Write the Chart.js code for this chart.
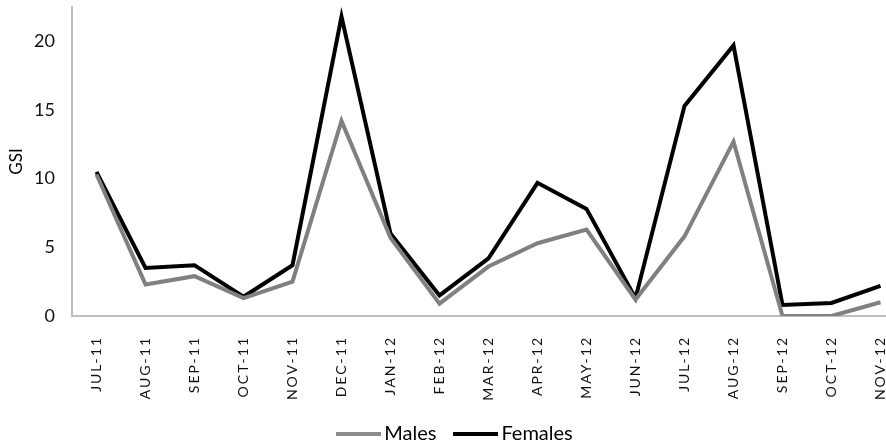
<!DOCTYPE html>
<html>
<head>
<meta charset="utf-8">
<script src="https://cdn.jsdelivr.net/npm/chart.js@4"></script>
<style>
  html, body { margin: 0; padding: 0; background: #fff; overflow: hidden; }
  #wrap { width: 912px; height: 444px; }
</style>
</head>
<body>
<div id="wrap"><canvas id="gsiChart"></canvas></div>
<script>
const months = ['JUL-11', 'AUG-11', 'SEP-11', 'OCT-11', 'NOV-11', 'DEC-11', 'JAN-12', 'FEB-12', 'MAR-12',
  'APR-12', 'MAY-12', 'JUN-12', 'JUL-12', 'AUG-12', 'SEP-12', 'OCT-12', 'NOV-12'];
const males = [10.3, 2.3, 2.9, 1.3, 2.5, 14.2, 5.7, 0.9, 3.6, 5.3, 6.3, 1.2, 5.8, 12.7, 0, 0, 1.0];
const females = [10.5, 3.5, 3.7, 1.4, 3.7, 21.8, 6.0, 1.5, 4.2, 9.7, 7.8, 1.3, 15.3, 19.7, 0.8, 0.95, 2.2];
const yTicks = [0, 5, 10, 15, 20];

const font = 'Lato, "Open Sans", sans-serif';

// legend swatch: a short line that sits close to its text
function swatch(color) {
  const c = document.createElement('canvas');
  c.width = 45;
  c.height = 4;
  const g = c.getContext('2d');
  g.fillStyle = color;
  g.fillRect(0, 0, 45, 4);
  return c;
}

// spaced-out month labels like the original
const spacedLabels = {
  id: 'spacedLabels',
  afterUpdate(chart) {
    const s = chart.scales.x;
    if (s._spaced) return;
    const orig = s.drawLabels.bind(s);
    s.drawLabels = function (area) {
      chart.ctx.save();
      chart.ctx.letterSpacing = '2px';
      orig(area);
      chart.ctx.restore();
    };
    s._spaced = true;
  }
};

const ctx = document.getElementById('gsiChart').getContext('2d');
new Chart(ctx, {
  type: 'line',
  data: {
    labels: months,
    datasets: [
      {
        label: 'Males',
        data: males,
        borderColor: '#808080',
        backgroundColor: '#808080',
        borderWidth: 4,
        pointRadius: 0,
        pointStyle: swatch('#8c8c8c'),
        tension: 0
      },
      {
        label: 'Females',
        data: females,
        borderColor: '#000000',
        backgroundColor: '#000000',
        borderWidth: 4,
        pointRadius: 0,
        pointStyle: swatch('#000000'),
        tension: 0
      }
    ]
  },
  options: {
    responsive: true,
    maintainAspectRatio: false,
    animation: false,
    layout: { padding: { top: 7, right: 7, left: 10, bottom: 0 } },
    plugins: {
      tooltip: { enabled: false },
      legend: {
        position: 'bottom',
        maxHeight: 43,
        labels: {
          usePointStyle: true,
          pointStyleWidth: 32,
          boxHeight: 4,
          padding: 23,
          color: '#000',
          font: { family: font, size: 20 }
        }
      }
    },
    scales: {
      x: {
        offset: true,
        grid: { display: false, drawTicks: false },
        border: { display: true, color: '#bfbfbf', width: 2 },
        ticks: {
          minRotation: 90,
          maxRotation: 90,
          autoSkip: false,
          padding: 20,
          color: '#111',
          font: { family: font, size: 14 }
        },
        afterFit(scale) {
          scale.height = 85;
          scale.paddingLeft = 0;
          scale.paddingRight = 0;
        }
      },
      y: {
        min: 0,
        max: 22.5,
        grid: { display: false, drawTicks: false },
        border: { display: true, color: '#bfbfbf', width: 2 },
        title: {
          display: true,
          text: 'GSI',
          color: '#000',
          font: { family: font, size: 17 },
          padding: { top: -4, bottom: 0 }
        },
        ticks: {
          stepSize: 5,
          padding: 17,
          color: '#111',
          font: { family: font, size: 18 }
        },
        afterBuildTicks(scale) {
          scale.ticks = yTicks.map(v => ({ value: v }));
        },
        afterFit(scale) {
          scale.width = 62;
          scale.paddingTop = 0;
          scale.paddingBottom = 0;
        }
      }
    }
  },
  plugins: [spacedLabels]
});
</script>
</body>
</html>
